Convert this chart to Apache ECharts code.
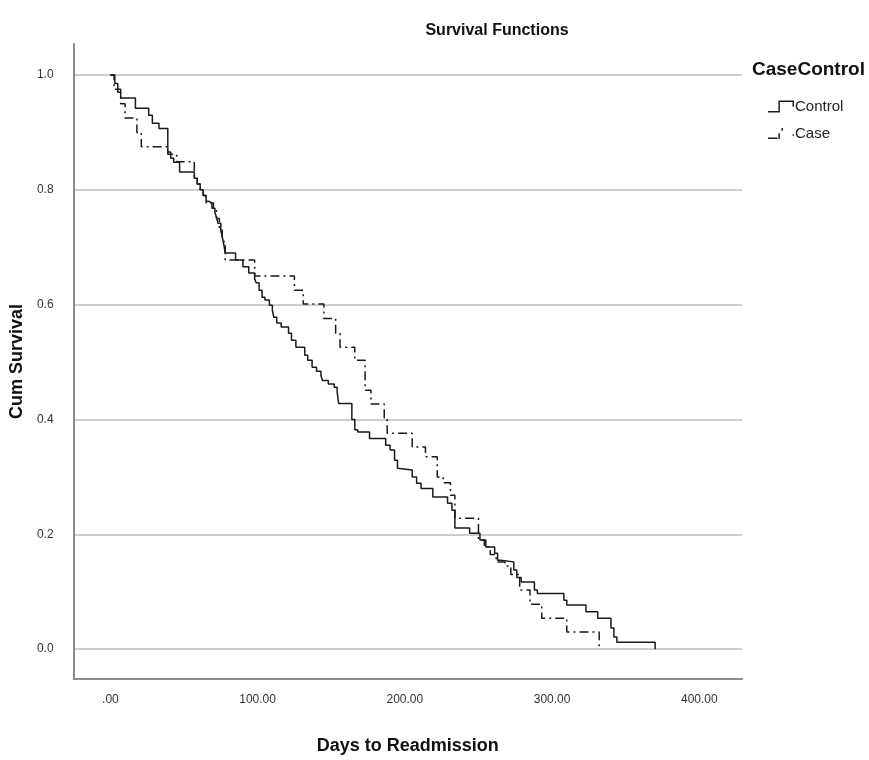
<!DOCTYPE html>
<html>
<head>
<meta charset="utf-8">
<script src="https://cdn.jsdelivr.net/npm/echarts@6/dist/echarts.min.js"></script>
<style>
html,body{margin:0;padding:0;background:#fff;}
#c{width:869px;height:760px;}
</style>
</head>
<body>
<div id="c"></div>
<script>
const FONT = "'Liberation Sans','Arial',sans-serif";

const chartTitle = "Survival Functions";
const xAxisName = "Days to Readmission";
const yAxisName = "Cum Survival";
const legendTitle = "CaseControl";
const seriesNames = ["Control", "Case"];

const xTicks = [0, 100, 200, 300, 400];
const yTicks = [0, 0.2, 0.4, 0.6, 0.8, 1.0];

const controlDays = [0,3,5,7,17,26,28.5,33,39,41,43,47,57,59,61,63,65,67,69,71,72,73,75,76,77,78,85,90,94,98,99,101,103,105,108,110,111,113,116,121,123,126,132,134,137,140,143,144,148,152,154,155,164,166,168,176,187,190,193,195,196,205,208,211,219,229,232,234,244,251,255,261,263,265,274,276,279,288,290,308,310,323,331,340,342,344,370];
const controlSurv = [1,0.985,0.97,0.96,0.942,0.93,0.916,0.907,0.866,0.855,0.848,0.831,0.82,0.81,0.80,0.79,0.78,0.777,0.768,0.76,0.753,0.742,0.73,0.718,0.705,0.69,0.678,0.666,0.655,0.645,0.638,0.625,0.613,0.608,0.599,0.59,0.578,0.568,0.561,0.55,0.538,0.526,0.512,0.503,0.491,0.484,0.477,0.468,0.462,0.456,0.448,0.428,0.40,0.382,0.378,0.367,0.355,0.347,0.329,0.315,0.312,0.30,0.289,0.28,0.265,0.254,0.242,0.211,0.202,0.19,0.178,0.167,0.155,0.152,0.138,0.125,0.117,0.103,0.097,0.085,0.077,0.065,0.054,0.037,0.021,0.012,0];

const caseDays = [0,2.5,7,10,18,21,39,45,57,59,61,63,65,70,72,74,76,78,98,125,131,145,153,156,166,173,177,186,188,205,214,222,226,231,234,250,254,258,262,268,272,278,285,293,310,332];
const caseSurv = [1,0.975,0.95,0.925,0.90,0.875,0.862,0.849,0.82,0.81,0.80,0.79,0.777,0.765,0.75,0.73,0.71,0.678,0.65,0.625,0.601,0.576,0.55,0.526,0.503,0.451,0.427,0.40,0.376,0.352,0.335,0.30,0.29,0.268,0.228,0.19,0.178,0.165,0.152,0.145,0.13,0.103,0.078,0.054,0.03,0];

const zip = (a, b) => a.map((v, i) => [v, b[i]]);

const chart = echarts.init(document.getElementById('c'), null, {renderer: 'canvas'});

const controlIcon = 'path://M0,10 L10,10 L10,0 L25,0 L25,6 L23.6,6 L23.6,1.4 L11.4,1.4 L11.4,11.4 L0,11.4 Z';
const caseIcon = 'path://M0,10 L9,10 L9,11.4 L0,11.4 Z M10,6 L11.4,6 L11.4,11.4 L10,11.4 Z M13,1 L14.4,1 L14.4,3.5 L13,3.5 Z M23.6,7 L25,7 L25,8.4 L23.6,8.4 Z';

chart.setOption({
  animation: false,
  backgroundColor: '#fff',
  title: {
    text: chartTitle,
    left: 492, top: 18, textAlign: 'center',
    textStyle: {fontFamily: FONT, fontSize: 16, fontWeight: 'bold', color: '#111'}
  },
  graphic: [{
    type: 'text', left: 752, top: 60,
    style: {text: legendTitle, fontFamily: FONT, fontSize: 19, fontWeight: 'bold', fill: '#111'}
  }],
  legend: {
    orient: 'vertical',
    left: 763, top: 94,
    itemGap: 12,
    itemWidth: 26, itemHeight: 12,
    data: [
      {name: seriesNames[0], icon: controlIcon},
      {name: seriesNames[1], icon: caseIcon}
    ],
    textStyle: {fontFamily: FONT, fontSize: 15, color: '#222', padding: [0,0,0,-4]}
  },
  grid: {left: 71, right: 127, top: 44, bottom: 81, containLabel: false},
  xAxis: {
    type: 'value', min: -25, max: 429,
    name: xAxisName, nameLocation: 'middle', nameGap: 58,
    nameTextStyle: {fontFamily: FONT, fontSize: 18, fontWeight: 'bold', color: '#111'},
    axisLine: {show: true, onZero: false, lineStyle: {color: '#8c8c8c', width: 2}},
    axisTick: {show: false, customValues: xTicks},
    axisLabel: {customValues: xTicks, margin: 15, fontFamily: FONT, fontSize: 12, color: '#333',
      formatter: v => v === 0 ? '.00' : v.toFixed(2)},
    splitLine: {show: false}
  },
  yAxis: {
    type: 'value', min: -0.052, max: 1.054,
    name: yAxisName, nameLocation: 'middle', nameGap: 46, nameRotate: 90,
    nameTextStyle: {fontFamily: FONT, fontSize: 18, fontWeight: 'bold', color: '#111'},
    axisLine: {show: true, onZero: false, lineStyle: {color: '#8c8c8c', width: 2}},
    axisTick: {show: false, customValues: yTicks},
    axisLabel: {customValues: yTicks, margin: 20, fontFamily: FONT, fontSize: 12, color: '#333',
      formatter: v => v.toFixed(1)},
    splitLine: {show: true, lineStyle: {color: '#bdbdbd', width: 1.5}}
  },
  series: [
    {
      name: seriesNames[0], type: 'line', step: 'end', symbol: 'none',
      data: zip(controlDays, controlSurv),
      itemStyle: {color: '#1a1a1a'},
      lineStyle: {color: '#1a1a1a', width: 1.5},
      z: 3
    },
    {
      name: seriesNames[1], type: 'line', step: 'end', symbol: 'none',
      data: zip(caseDays, caseSurv),
      itemStyle: {color: '#1a1a1a'},
      lineStyle: {color: '#1a1a1a', width: 1.5, type: [9, 4, 2, 4]},
      z: 4
    }
  ]
});
</script>
</body>
</html>
